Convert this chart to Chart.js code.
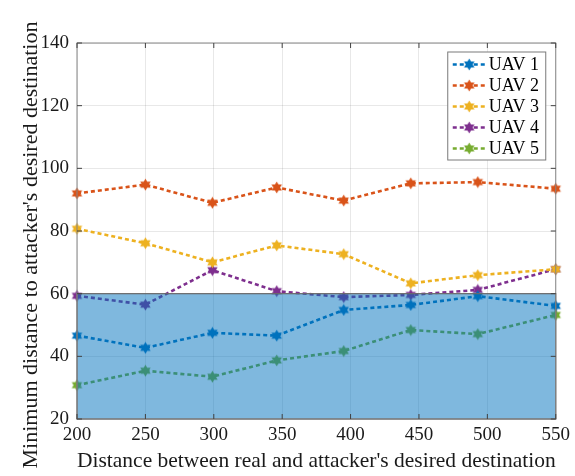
<!DOCTYPE html>
<html>
<head>
<meta charset="utf-8">
<script src="https://cdn.jsdelivr.net/npm/chart.js@4"></script>
<style>
  body { margin: 0; background: #fff; }
</style>
</head>
<body>
<canvas id="uavChart" width="575" height="476"></canvas>
<script>
// distances between real and attacker's desired destination
var xValues = [200, 250, 299, 346, 395, 444, 493, 550];

var uav1 = [46.6, 42.7, 47.5, 46.6, 54.8, 56.4, 59.2, 56.1];
var uav2 = [92.0, 94.8, 89.0, 93.9, 89.7, 95.2, 95.6, 93.5];
var uav3 = [80.7, 76.1, 70.0, 75.4, 72.6, 63.3, 65.9, 67.8];
var uav4 = [59.3, 56.5, 67.5, 60.8, 58.9, 59.6, 61.2, 67.8];
var uav5 = [30.8, 35.4, 33.5, 38.7, 41.7, 48.4, 47.1, 53.2];

var seriesNames = ['UAV 1', 'UAV 2', 'UAV 3', 'UAV 4', 'UAV 5'];
var seriesColors = ['#0072BD', '#D95319', '#EDB120', '#7E2F8E', '#77AC30'];

// shaded band (y from..to)
var band = [20, 60];

var xTitle = "Distance between real and attacker's desired destination";
var yTitle = "Minimum distance to attacker's desired destination";

// hexagram marker like matlab 'h'
function hexagram(color) {
    var c = document.createElement('canvas');
    c.width = 13; c.height = 13;
    var g = c.getContext('2d');
    var R = 6, r = R / Math.sqrt(3);
    g.beginPath();
    for (var k = 0; k < 12; k++) {
        var a = (-90 + k * 30) * Math.PI / 180;
        var rr = k % 2 === 0 ? R : r;
        var px = 6.5 + rr * Math.cos(a), py = 6.5 + rr * Math.sin(a);
        if (k === 0) g.moveTo(px, py); else g.lineTo(px, py);
    }
    g.closePath();
    g.fillStyle = color;
    g.fill();
    return c;
}

var allSeries = [uav1, uav2, uav3, uav4, uav5];
var markers = seriesColors.map(hexagram);

var datasets = allSeries.map(function (vals, i) {
    return {
        label: seriesNames[i],
        data: xValues.map(function (x, j) { return { x: x, y: vals[j] }; }),
        borderColor: seriesColors[i],
        backgroundColor: seriesColors[i],
        borderWidth: 2.6,
        borderDash: [4, 3],
        pointStyle: markers[i],
        pointRadius: 6,
        clip: false,
    };
});

var bandPlugin = {
    id: 'band',
    afterDatasetsDraw: function (chart) {
        var ctx = chart.ctx;
        var ys = chart.scales.y, xs = chart.scales.x;
        var top = ys.getPixelForValue(band[1]);
        var bottom = ys.getPixelForValue(band[0]);
        var left = xs.getPixelForValue(xs.min), right = xs.getPixelForValue(xs.max);
        ctx.save();
        ctx.fillStyle = 'rgba(0,114,189,0.5)';
        ctx.fillRect(left, top, right - left, bottom - top);
        ctx.strokeStyle = '#6a6a6a';
        ctx.lineWidth = 1.2;
        ctx.strokeRect(left, top, right - left, bottom - top);
        ctx.restore();
    },
    afterDraw: function (chart) {
        var ctx = chart.ctx, a = chart.chartArea;
        ctx.save();
        // box
        ctx.strokeStyle = '#858585';
        ctx.lineWidth = 1;
        ctx.strokeRect(a.left, a.top, a.right - a.left, a.bottom - a.top);
        // inward ticks
        ctx.strokeStyle = '#404040';
        ctx.beginPath();
        chart.scales.x.ticks.forEach(function (t) {
            var px = chart.scales.x.getPixelForValue(t.value);
            ctx.moveTo(px, a.bottom); ctx.lineTo(px, a.bottom - 5);
            ctx.moveTo(px, a.top); ctx.lineTo(px, a.top + 5);
        });
        chart.scales.y.ticks.forEach(function (t) {
            var py = chart.scales.y.getPixelForValue(t.value);
            ctx.moveTo(a.left, py); ctx.lineTo(a.left + 5, py);
            ctx.moveTo(a.right, py); ctx.lineTo(a.right - 5, py);
        });
        ctx.stroke();

        // y title (sits a bit below the plot centre in the original)
        ctx.save();
        ctx.translate(31, 245);
        ctx.rotate(-Math.PI / 2);
        ctx.font = '22px "Liberation Serif"';
        ctx.fillStyle = '#1a1a1a';
        ctx.textAlign = 'center';
        ctx.textBaseline = 'middle';
        ctx.fillText(yTitle, 0, 0);
        ctx.restore();

        // legend inside, top right
        var w = 98, h = 108;
        var bx = a.right - 10 - w, by = a.top + 9;
        ctx.fillStyle = '#fff';
        ctx.fillRect(bx, by, w, h);
        ctx.strokeStyle = '#7a7a7a';
        ctx.lineWidth = 1;
        ctx.strokeRect(bx, by, w, h);
        ctx.font = '18px "Liberation Serif"';
        ctx.textBaseline = 'middle';
        chart.data.datasets.forEach(function (ds, i) {
            var cy = by + 12.5 + i * 21;
            ctx.strokeStyle = ds.borderColor;
            ctx.lineWidth = 2.6;
            ctx.setLineDash([4, 3]);
            ctx.beginPath();
            ctx.moveTo(bx + 5, cy); ctx.lineTo(bx + 38, cy);
            ctx.stroke();
            ctx.setLineDash([]);
            ctx.drawImage(markers[i], bx + 21.5 - 6.5, cy - 6.5);
            ctx.fillStyle = '#000';
            ctx.fillText(ds.label, bx + 41, cy + 1);
        });
        ctx.restore();
    }
};

var tickFont = { family: '"Liberation Serif"', size: 19 };
var titleFont = { family: '"Liberation Serif"', size: 22 };

var config = {
    type: 'line',
    data: { datasets: datasets },
    options: {
        responsive: false,
        animation: false,
        layout: { padding: { top: 43, right: 18, left: 0, bottom: 0 } },
        plugins: {
            legend: { display: false },
            tooltip: { enabled: false },
        },
        scales: {
            x: {
                type: 'linear',
                min: 200,
                max: 550,
                ticks: { stepSize: 50, color: '#1a1a1a', font: tickFont, padding: 5, maxRotation: 0 },
                grid: { color: 'rgba(0,0,0,0.09)', drawTicks: false },
                border: { display: false },
                title: { display: true, text: xTitle, color: '#1a1a1a', font: titleFont, padding: { top: 0, bottom: 2 } },
                afterFit: function (s) { s.height = 57; },
            },
            y: {
                min: 20,
                max: 140,
                ticks: { stepSize: 20, color: '#1a1a1a', font: tickFont, padding: 8 },
                grid: { color: 'rgba(0,0,0,0.09)', drawTicks: false },
                border: { display: false },
                afterFit: function (s) { s.width = 77; },
            },
        },
    },
    plugins: [bandPlugin],
};

var uavChart = new Chart(document.getElementById('uavChart'), config);
</script>
</body>
</html>
